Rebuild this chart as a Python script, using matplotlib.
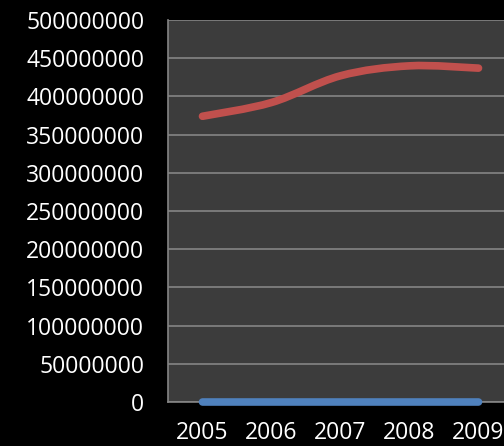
import matplotlib.pyplot as plt
import numpy as np
from matplotlib.path import Path
from matplotlib.patches import PathPatch

years = ['2005', '2006', '2007', '2008', '2009']
red_values = [374000000, 392000000, 427000000, 440000000, 437000000]
blue_values = [0, 0, 0, 0, 0]
y_ticks = list(range(0, 500000001, 50000000))

plt.rcParams['font.family'] = ['Open Sans', 'DejaVu Sans']


def smooth_path(xs, ys):
    # Catmull-Rom -> Bezier, like Excel's smoothed line
    pts = np.column_stack([xs, ys]).astype(float)
    verts = [pts[0]]
    codes = [Path.MOVETO]
    n = len(pts)
    for i in range(n - 1):
        p0 = pts[max(i - 1, 0)]
        p1 = pts[i]
        p2 = pts[i + 1]
        p3 = pts[min(i + 2, n - 1)]
        c1 = p1 + (p2 - p0) / 6.0
        c2 = p2 - (p3 - p1) / 6.0
        verts += [c1, c2, p2]
        codes += [Path.CURVE4] * 3
    return Path(verts, codes)


fig = plt.figure(figsize=(5.04, 4.46), dpi=100, facecolor='black')
ax = fig.add_axes([168 / 504, 44 / 446, 345 / 504, 382 / 446])
ax.set_facecolor('#3c3c3c')

x = np.arange(len(years))
for vals, col in [(red_values, '#c0504d'), (blue_values, '#4f81bd')]:
    patch = PathPatch(smooth_path(x, vals), facecolor='none', edgecolor=col,
                      lw=5.5, capstyle='round', joinstyle='round', clip_on=False, zorder=3)
    ax.add_patch(patch)

ax.set_xlim(-0.5, len(years) - 0.5)
ax.set_ylim(0, 500000000)
ax.set_yticks(y_ticks)
ax.set_yticklabels([str(v) for v in y_ticks])
ax.set_xticks(x)
ax.set_xticklabels(years)
ax.grid(axis='y', color='#858585', lw=1.2)
ax.set_axisbelow(True)
ax.tick_params(colors='white', labelsize=16.5, length=0)
ax.tick_params(axis='y', pad=17)
ax.tick_params(axis='x', pad=14)
for s in ['top', 'right']:
    ax.spines[s].set_visible(False)
for s in ['left', 'bottom']:
    ax.spines[s].set_color('#858585')
    ax.spines[s].set_linewidth(1.2)

plt.savefig('out.png', dpi=100, facecolor='black')
